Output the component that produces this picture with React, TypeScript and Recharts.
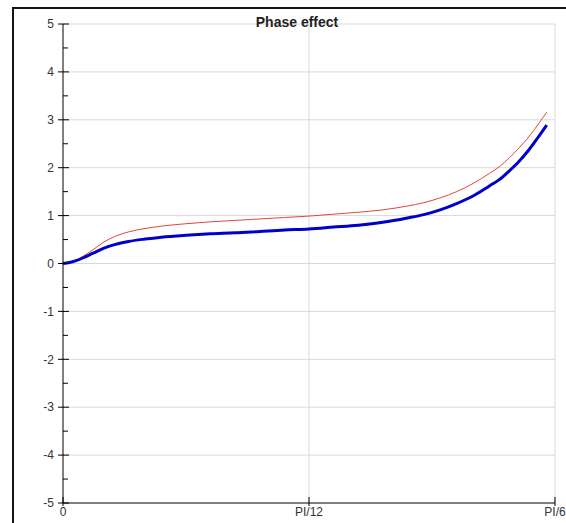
import { LineChart, Line, XAxis, YAxis, CartesianGrid } from "recharts"

// x in degrees, 0 .. 30 (= PI/6)
const angles = [0, 0.4, 0.8, 1.3, 1.8, 2.5, 3.2, 4, 5, 6, 7.5, 9, 10.5, 12, 13.5, 15, 16.5, 18, 19.5, 21, 22, 23, 24, 25, 26, 26.6, 27.2, 27.8, 28.4, 29, 29.5]
const redValues = [0, 0.02, 0.07, 0.17, 0.28, 0.45, 0.57, 0.66, 0.73, 0.78, 0.83, 0.87, 0.9, 0.93, 0.96, 0.99, 1.03, 1.07, 1.12, 1.2, 1.27, 1.37, 1.5, 1.67, 1.88, 2.02, 2.2, 2.41, 2.64, 2.92, 3.16]
const blueValues = [0, 0.02, 0.06, 0.13, 0.21, 0.32, 0.4, 0.46, 0.51, 0.55, 0.59, 0.62, 0.64, 0.67, 0.7, 0.72, 0.76, 0.8, 0.86, 0.95, 1.02, 1.12, 1.25, 1.41, 1.62, 1.75, 1.93, 2.13, 2.37, 2.65, 2.89]

const xTicks = [0, 15, 30]
const xTickLabels = ["0", "PI/12", "PI/6"]
const yTicks = [-5, -4.5, -4, -3.5, -3, -2.5, -2, -1.5, -1, -0.5, 0, 0.5, 1, 1.5, 2, 2.5, 3, 3.5, 4, 4.5, 5]
const yGrid = [-4, -3, -2, -1, 0, 1, 2, 3, 4, 5]

const data = angles.map((a, i) => ({ a, red: redValues[i], blue: blueValues[i] }))

const FONT = "'Liberation Sans', Arial, sans-serif"

const YTick = ({ x, y, payload }: any) => {
  const v = payload.value
  if (!Number.isInteger(v)) {
    return <line x1={x} x2={x + 5} y1={y} y2={y} stroke="#000" />
  }
  return (
    <g>
      <line x1={x - 5} x2={x + 6} y1={y} y2={y} stroke="#000" />
      <text x={x - 9} y={y} dy="0.35em" textAnchor="end" fontSize={12} fill="#333" fontFamily={FONT}>
        {v}
      </text>
    </g>
  )
}

const XTick = ({ x, y, payload }: any) => {
  const idx = xTicks.indexOf(payload.value)
  return (
    <g>
      <line x1={x} x2={x} y1={y - 6} y2={y + 3} stroke="#000" />
      <text x={x} y={y + 13} textAnchor="middle" fontSize={12} fill="#333" fontFamily={FONT}>
        {xTickLabels[idx]}
      </text>
    </g>
  )
}

export default function App() {
  return (
    <div style={{ position: "absolute", left: 0, top: 0, width: 566, height: 523, overflow: "hidden", background: "#fff" }}>
      <LineChart width={566} height={523} data={data} margin={{ top: 24, right: 11, bottom: 0, left: 0 }}>
        <CartesianGrid stroke="#d9d9d9" horizontalValues={yGrid} verticalValues={[15, 30]} />
        <XAxis
          dataKey="a"
          type="number"
          domain={[0, 30]}
          ticks={xTicks}
          height={20}
          tickSize={0}
          tickMargin={0}
          tickLine={false}
          axisLine={{ stroke: "#000" }}
          tick={<XTick />}
          interval={0}
        />
        <YAxis
          type="number"
          domain={[-5, 5]}
          ticks={yTicks}
          width={63}
          tickSize={0}
          tickMargin={0}
          tickLine={false}
          axisLine={{ stroke: "#000" }}
          tick={<YTick />}
          interval={0}
        />
        <Line type="monotone" dataKey="red" stroke="#e2463c" strokeWidth={1} dot={false} isAnimationActive={false} />
        <Line type="monotone" dataKey="blue" stroke="#0000c8" strokeWidth={3} dot={false} isAnimationActive={false} />
        <text x={297} y={27} textAnchor="middle" fontSize={14} fontWeight="bold" fill="#222" fontFamily={FONT}>
          Phase effect
        </text>
        {/* outer frame, left and top edges only */}
        <path d="M13 523 L13 8 L566 8" fill="none" stroke="#151515" strokeWidth={2} />
      </LineChart>
    </div>
  )
}
